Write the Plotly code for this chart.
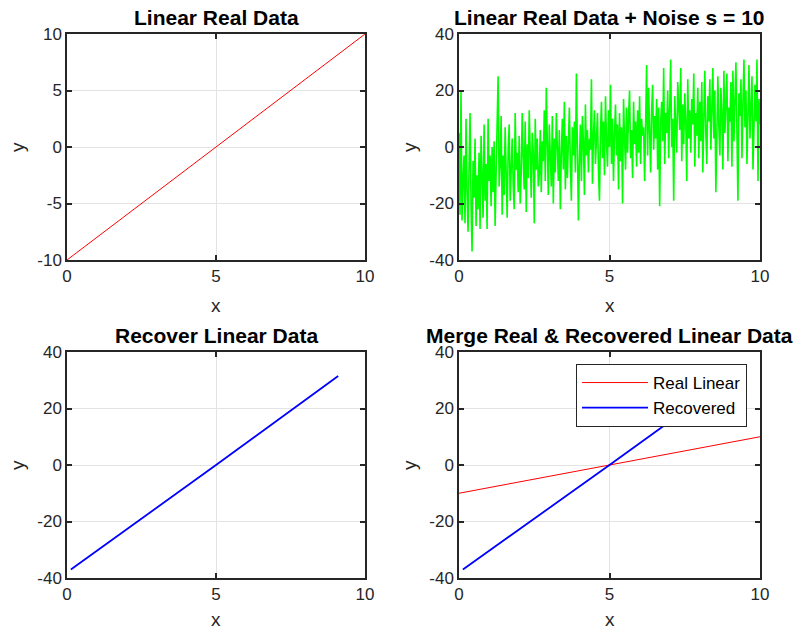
import numpy as np
import plotly.graph_objects as go

# ---------------- data ----------------
real_x = [0, 10]
real_y = [-10, 10]

noisy_y = [
    5, -24, 20, -26, -12, -3, -27, 10, -15, -30, -8, 12, -20, -37, -5, -18, 3, -28, -10, -22,
    -2, -29, 4, -14, -25, 8, -19, -6, -29, 10, -12, -3, -21, 0, -16, 2, -28, -9, 5, 25,
    -14, -6, 11, -24, -3, -17, 7, -10, -25, -1, 8, -19, -5, 3, -13, -22, 12, -8, -2, -16,
    4, -20, -9, 12, -4, -15, 9, -23, 1, -11, 13, -6, -18, 5, -2, -27, 10, -8, 3, -14,
    -10, 6, -16, 2, -5, 13, -12, 21, -7, -17, 8, -1, -14, 11, -20, 3, -9, 12, -4, -12,
    6, -22, -2, 10, -8, 16, -15, 4, -11, 1, 14, -6, -19, 7, -3, 9, -9, 26, 3, -26,
    -5, 8, -12, 11, 2, -17, 15, -3, 6, -9, 3, -1, 24, -13, 4, 13, -6, 1, 12, -8,
    -19, 5, 16, -4, 9, -10, 18, 2, -7, 13, 0, 22, -6, 10, -12, 5, 15, -3, 8, -15,
    12, -5, 7, -20, 17, 3, -8, 14, -2, 11, 20, -4, 6, -11, 16, 1, 9, -7, 13, -2,
    18, -6, 10, 4, 7, -12, 8, 29, -3, 21, 6, -9, 13, 22, -1, 11, 3, 17, -8, 14,
    -21, 9, 16, 2, 28, -6, 12, 5, 20, -4, 14, 31, 0, 10, -19, 18, 7, -2, 23, 11,
    6, 28, -5, 15, 1, 19, 9, -12, 24, 3, 13, -2, 17, 8, 26, -7, 12, 4, 21, -4,
    16, 2, 23, -9, 11, 27, 5, -6, 18, 9, 24, -1, 13, 28, 3, 20, -16, 10, 25, 7,
    -3, 21, 12, -8, 27, 5, 18, 26, -5, 14, 9, 23, -7, 27, 2, 16, 30, 6, -19, 19,
    11, 24, -4, 16, 31, 7, 20, -6, 13, 29, 3, 18, 25, -8, 14, 22, 9, 31, -12, 17, 8,
]
noisy_x = np.linspace(0, 10, len(noisy_y))

recovered_x = [0.13, 5.0, 9.1]
recovered_y = [-37, 0, 31.5]

x_ticks = [0, 5, 10]
y_ticks_small = [-10, -5, 0, 5, 10]
y_ticks_big = [-40, -20, 0, 20, 40]
y_labels_small = ["-10", "-5", "0", "5", "10"]
y_labels_big = ["-40", "-20", "0", "20", "40"]

titles = ["Linear Real Data", "Linear Real Data + Noise s = 10",
          "Recover Linear Data", "Merge Real & Recovered Linear Data"]

# ---------------- layout geometry ----------------
W, H = 795, 632
FONT = "Liberation Sans, Arial, Helvetica, sans-serif"
AX = "#262626"

def px_x(p):
    return p / W

def px_y(p):
    return 1 - p / H

col_px = [(67, 365), (459, 760)]
row_px = [(34, 260), (352, 578)]

fig = go.Figure()

fig.add_trace(go.Scatter(x=real_x, y=real_y, mode="lines", line=dict(color="#FF0000", width=1),
                         xaxis="x", yaxis="y", showlegend=False))
fig.add_trace(go.Scatter(x=noisy_x, y=noisy_y, mode="lines", line=dict(color="#00FF00", width=1.6),
                         xaxis="x2", yaxis="y2", showlegend=False))
fig.add_trace(go.Scatter(x=recovered_x, y=recovered_y, mode="lines", line=dict(color="#0000FF", width=1.8),
                         xaxis="x3", yaxis="y3", showlegend=False))
fig.add_trace(go.Scatter(x=real_x, y=real_y, mode="lines", line=dict(color="#FF0000", width=1),
                         xaxis="x4", yaxis="y4", name="Real Linear", showlegend=True))
fig.add_trace(go.Scatter(x=recovered_x, y=recovered_y, mode="lines", line=dict(color="#0000FF", width=1.8),
                         xaxis="x4", yaxis="y4", name="Recovered", showlegend=True))

def axis_common():
    return dict(showline=True, linecolor=AX, linewidth=1.5, mirror="allticks",
                ticks="inside", ticklen=5, tickcolor=AX, tickwidth=1.5,
                showgrid=True, gridcolor="#e3e3e3", gridwidth=1, zeroline=False,
                automargin=False,
                tickfont=dict(family=FONT, size=17, color=AX), fixedrange=True)

layout = {}
annotations = []
for k in range(4):
    r, c = divmod(k, 2)
    sfx = "" if k == 0 else str(k + 1)
    x0, x1 = col_px[c]
    y0, y1 = row_px[r]
    xa = axis_common()
    xa.update(domain=[px_x(x0), px_x(x1)], anchor="y" + sfx, range=[0, 10], tickvals=x_ticks)
    ya = axis_common()
    yt = y_ticks_small if k == 0 else y_ticks_big
    yl = y_labels_small if k == 0 else y_labels_big
    ya.update(domain=[px_y(y1), px_y(y0)], anchor="x" + sfx, range=[yt[0], yt[-1]],
              tickvals=yt, ticktext=yl)
    layout["xaxis" + sfx] = xa
    layout["yaxis" + sfx] = ya
    annotations.append(dict(text="<b>" + titles[k] + "</b>", x=px_x((x0 + x1) / 2), y=px_y(y0 - 17),
                            xref="paper", yref="paper", showarrow=False, xanchor="center", yanchor="middle",
                            font=dict(family=FONT, size=21, color="#000000")))
    if r == 0:
        annotations.append(dict(text="x", x=px_x((x0 + x1) / 2), y=px_y(y1 + 45),
                                xref="paper", yref="paper", showarrow=False, xanchor="center",
                                yanchor="middle", font=dict(family=FONT, size=19, color=AX)))
    else:
        annotations.append(dict(text="x", x=px_x((x0 + x1) / 2), y=0,
                                xref="paper", yref="paper", showarrow=False, xanchor="center",
                                yanchor="bottom", font=dict(family=FONT, size=19, color=AX)))
    annotations.append(dict(text="y", x=px_x(x0 - 50), y=px_y((y0 + y1) / 2),
                            xref="paper", yref="paper", showarrow=False, xanchor="center", yanchor="middle",
                            textangle=-90, font=dict(family=FONT, size=19, color=AX)))

fig.update_layout(**layout)
fig.update_layout(
    width=W, height=H,
    margin=dict(l=0, r=0, t=0, b=0, pad=0, autoexpand=False),
    paper_bgcolor="white", plot_bgcolor="white",
    annotations=annotations,
    legend=dict(x=px_x(576), y=px_y(364), xanchor="left", yanchor="top",
                bgcolor="white", bordercolor=AX, borderwidth=1,
                font=dict(family=FONT, size=17, color="#000000"),
                itemwidth=66, tracegroupgap=0),
)

fig.write_html("out.html", config={"displayModeBar": False},
               post_script="document.body.style.margin='0';document.body.style.overflow='hidden';")
